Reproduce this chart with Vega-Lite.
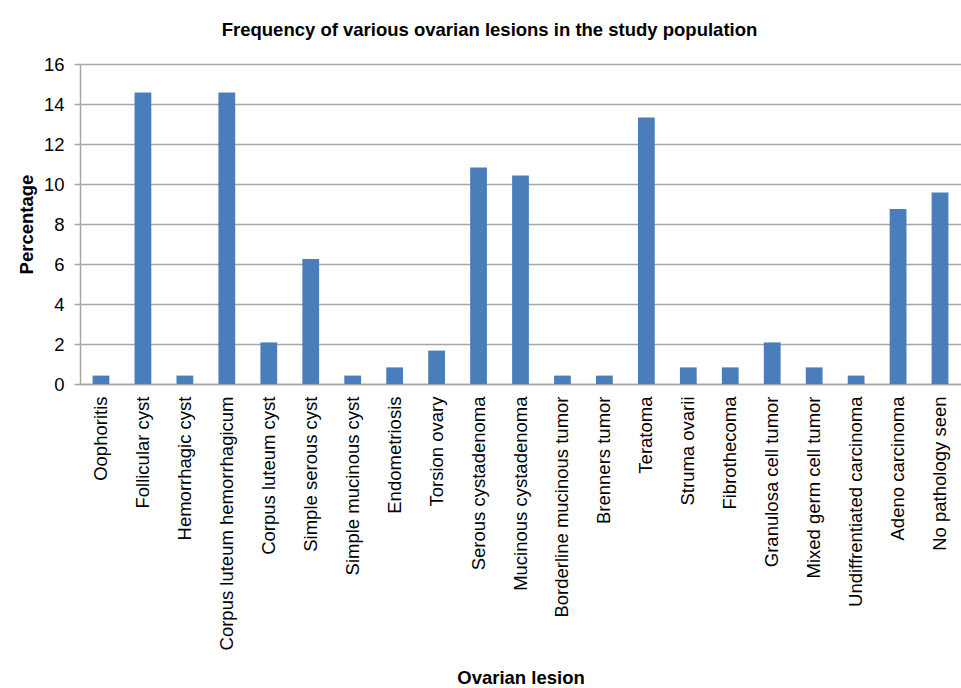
{
  "$schema": "https://vega.github.io/schema/vega-lite/v6.json",
  "width": 881,
  "height": 320,
  "autosize": "none",
  "padding": {"left": 80, "top": 64, "right": 0, "bottom": 304},
  "background": "white",
  "title": {
    "text": "Frequency of various ovarian lesions in the study population",
    "font": "Liberation Sans",
    "fontSize": 18.5,
    "fontWeight": "bold",
    "color": "#000000",
    "anchor": "middle",
    "dx": -31,
    "offset": 16
  },
  "config": {
    "view": {"stroke": null},
    "axis": {
      "labelFont": "Liberation Sans",
      "titleFont": "Liberation Sans",
      "labelColor": "#000000",
      "titleColor": "#000000"
    }
  },
  "data": {
    "values": [
      {"lesion": "Oophoritis", "pct": 0.42},
      {"lesion": "Follicular cyst", "pct": 14.58},
      {"lesion": "Hemorrhagic cyst", "pct": 0.42},
      {"lesion": "Corpus luteum hemorrhagicum", "pct": 14.58},
      {"lesion": "Corpus luteum cyst", "pct": 2.08},
      {"lesion": "Simple serous cyst", "pct": 6.25},
      {"lesion": "Simple mucinous cyst", "pct": 0.42},
      {"lesion": "Endometriosis", "pct": 0.83},
      {"lesion": "Torsion ovary", "pct": 1.67},
      {"lesion": "Serous cystadenoma", "pct": 10.83},
      {"lesion": "Mucinous cystadenoma", "pct": 10.42},
      {"lesion": "Borderline mucinous tumor", "pct": 0.42},
      {"lesion": "Brenners tumor", "pct": 0.42},
      {"lesion": "Teratoma", "pct": 13.33},
      {"lesion": "Struma ovarii", "pct": 0.83},
      {"lesion": "Fibrothecoma", "pct": 0.83},
      {"lesion": "Granulosa cell tumor", "pct": 2.08},
      {"lesion": "Mixed germ cell tumor", "pct": 0.83},
      {"lesion": "Undiffrentiated carcinoma", "pct": 0.42},
      {"lesion": "Adeno carcinoma", "pct": 8.75},
      {"lesion": "No pathology seen", "pct": 9.58}
    ]
  },
  "mark": {"type": "bar", "color": "#4A7EBB"},
  "encoding": {
    "x": {
      "field": "lesion",
      "type": "nominal",
      "sort": null,
      "scale": {"paddingInner": 0.6, "paddingOuter": 0.3},
      "axis": {
        "title": "Ovarian lesion",
        "titleFontSize": 18.5,
        "titleFontWeight": "bold",
        "titleY": 299,
        "titleBaseline": "alphabetic",
        "labelAngle": -90,
        "labelFontSize": 18.5,
        "labelPadding": 12,
        "labelLimit": 0,
        "ticks": false,
        "domainColor": "#a6a6a6",
        "domainWidth": 1.5,
        "grid": false
      }
    },
    "y": {
      "field": "pct",
      "type": "quantitative",
      "scale": {"domain": [0, 16], "nice": false},
      "axis": {
        "title": "Percentage",
        "titleFontSize": 18.5,
        "titleFontWeight": "bold",
        "titlePadding": 7,
        "values": [0, 2, 4, 6, 8, 10, 12, 14, 16],
        "labelFontSize": 18.5,
        "labelPadding": 10,
        "tickSize": 6,
        "tickColor": "#a6a6a6",
        "tickWidth": 1.5,
        "domainColor": "#a6a6a6",
        "domainWidth": 1.5,
        "gridColor": "#a6a6a6",
        "gridWidth": 1.5
      }
    }
  }
}
